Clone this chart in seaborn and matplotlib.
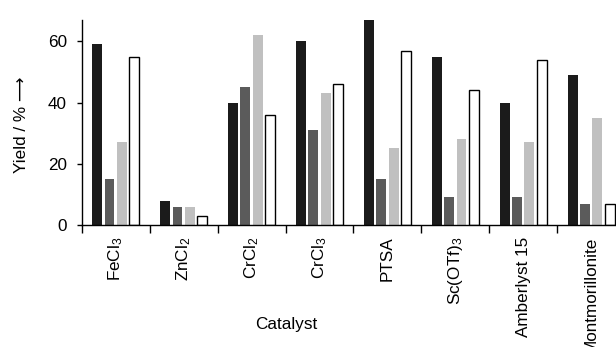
import pandas as pd
import numpy as np
import matplotlib
matplotlib.use("Agg")
import matplotlib.pyplot as plt
import seaborn as sns
from matplotlib.ticker import FixedLocator

# catalysts along the x axis
catalysts = ['FeCl$_3$', 'ZnCl$_2$', 'CrCl$_2$', 'CrCl$_3$', 'PTSA',
             'Sc(OTf)$_3$', 'Amberlyst 15', 'Montmorillonite']
series = ['s1', 's2', 's3', 's4']

# yields (%), one list per bar shade
s1 = [59, 8, 40, 60, 67, 55, 40, 49]
s2 = [15, 6, 45, 31, 15, 9, 9, 7]
s3 = [27, 6, 62, 43, 25, 28, 27, 35]
s4 = [55, 3, 36, 46, 57, 44, 54, 7]

colors = ['#1b1b1b', '#5b5b5b', '#c0c0c0', '#ffffff']

rows = []
for name, vals in zip(series, [s1, s2, s3, s4]):
    for cat, v in zip(catalysts, vals):
        rows.append({'Catalyst': cat, 'series': name, 'Yield': v})
df = pd.DataFrame(rows)

sns.set_style('white')
plt.rcParams['font.family'] = ['Liberation Sans', 'DejaVu Sans']
plt.rcParams['mathtext.fontset'] = 'custom'
plt.rcParams['mathtext.rm'] = 'Liberation Sans'
plt.rcParams['mathtext.it'] = 'Liberation Sans:italic'
plt.rcParams['mathtext.default'] = 'rm'
plt.rcParams['text.color'] = 'black'
plt.rcParams['axes.labelcolor'] = 'black'
plt.rcParams['xtick.color'] = 'black'
plt.rcParams['ytick.color'] = 'black'

fs = 12.3

fig = plt.figure(figsize=(6.16, 3.47), dpi=100)
ax = fig.add_axes([0.1326, 0.3516, 0.8824, 0.5908])

sns.barplot(data=df, x='Catalyst', y='Yield', hue='series', order=catalysts,
            hue_order=series, palette=colors, width=0.72, gap=0.19,
            linewidth=0, legend=False, ax=ax, errorbar=None)

# white bars get a black outline
for bar in ax.containers[3]:
    bar.set_edgecolor('black')
    bar.set_linewidth(1.0)

ax.set_xlim(-0.5, len(catalysts) - 0.5)
ax.set_ylim(0, 67)
ax.set_yticks([0, 20, 40, 60])

sns.despine(ax=ax)
for sp in ['left', 'bottom']:
    ax.spines[sp].set_linewidth(1.0)
    ax.spines[sp].set_color('black')

# group labels at centres, tick marks at the group boundaries
ax.xaxis.set_minor_locator(FixedLocator(np.arange(-0.5, len(catalysts), 1.0)))
ax.tick_params(axis='x', which='major', length=0, pad=8.5, labelsize=fs,
               labelrotation=90, labelcolor='black')
ax.tick_params(axis='x', which='minor', length=5.8, width=1.0, color='black',
               direction='out', bottom=True)
ax.tick_params(axis='y', length=3.6, width=1.0, color='black', left=True,
               direction='out', pad=7, labelsize=fs, labelcolor='black')

ax.set_xlabel('Catalyst', fontsize=fs, color='black')
ax.xaxis.set_label_coords(0.377, -0.45)
ax.set_ylabel('Yield / % \u27f6', fontsize=fs, color='black')
ax.yaxis.label.set_verticalalignment('center')
ax.yaxis.set_label_coords(-0.11, 0.488)

fig.savefig('out.png', dpi=100)
